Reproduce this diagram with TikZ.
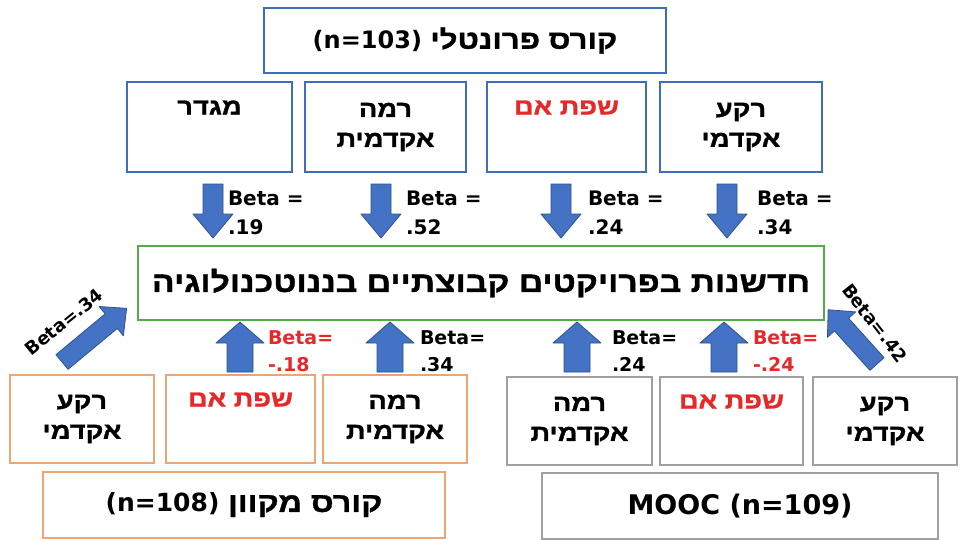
\documentclass[tikz,border=0pt]{standalone}
\usepackage{fontspec}
\setmainfont{DejaVu Sans}
\newfontfamily\heb[Script=Hebrew, Scale=1.1, FakeStretch=1.18, FakeBold=1.2]{Liberation Sans}
\TeXXeTstate=1

\definecolor{boxblue}{RGB}{62,108,190}
\definecolor{boxgreen}{RGB}{84,170,72}
\definecolor{boxorange}{RGB}{240,164,112}
\definecolor{boxgray}{RGB}{160,160,160}
\definecolor{arrowblue}{RGB}{68,114,196}
\definecolor{arrowedge}{RGB}{47,82,143}
\definecolor{textred}{RGB}{232,40,40}

% right-to-left Hebrew run
\newcommand\rtl[1]{{\heb\beginR #1\endR}}

% block arrow: tail point, direction angle, length, shaft width, head width, head length
\newcommand\fatarrow[6]{%
  \begin{scope}[shift={#1}, rotate=#2]
    \filldraw[fill=arrowblue, draw=arrowedge, line width=0.8pt, line join=round]
      (0,-#4/2) -- (#3-#6,-#4/2) -- (#3-#6,-#5/2) -- (#3,0) --
      (#3-#6,#5/2) -- (#3-#6,#4/2) -- (0,#4/2) -- cycle;
  \end{scope}}

\begin{document}
\begin{tikzpicture}[x=1pt, y=-1pt,
  every node/.style={inner sep=0pt, outer sep=0pt},
  varbox/.style={draw, line width=2.4pt, fill=white, align=center,
    font=\bfseries\fontsize{21}{30}\selectfont},
  titlebox/.style={draw, line width=2.4pt, fill=white,
    font=\bfseries\fontsize{24}{28}\selectfont},
  betalabel/.style={anchor=north west, align=left,
    font=\bfseries\fontsize{20}{29}\selectfont},
  betaup/.style={anchor=north west, align=left,
    font=\bfseries\fontsize{19}{27}\selectfont},
  betaside/.style={font=\bfseries\fontsize{18}{22}\selectfont}
]
\useasboundingbox (0,0) rectangle (960,539);
\fill[white] (0,0) rectangle (960,539);

% face-to-face course
\node[titlebox, draw=boxblue, minimum width=402pt, minimum height=65pt] (ftf) at (465,40.5)
  {(n=103) \rtl{קורס פרונטלי}};
\node[varbox, draw=boxblue, minimum width=165pt, minimum height=90pt] (fgender) at (209.5,127)
  {\rtl{מגדר}\\\strut};
\node[varbox, draw=boxblue, minimum width=161pt, minimum height=90pt] (flevel) at (385.5,127)
  {\rtl{רמה}\\\rtl{אקדמית}};
\node[varbox, draw=boxblue, minimum width=159pt, minimum height=90pt, text=textred] (flang) at (566.5,127)
  {\rtl{שפת אם}\\\strut};
\node[varbox, draw=boxblue, minimum width=162pt, minimum height=90pt] (fback) at (741,127)
  {\rtl{רקע}\\\rtl{אקדמי}};

% outcome
\node[draw=boxgreen, line width=2.4pt, fill=white, minimum width=686pt, minimum height=74pt,
  font=\bfseries\fontsize{26}{30}\selectfont] (innov) at (481,283)
  {\rtl{חדשנות בפרויקטים קבוצתיים בננוטכנולוגיה}};

% online course
\node[varbox, draw=boxorange, minimum width=144pt, minimum height=88pt] (oback) at (82,419)
  {\rtl{רקע}\\\rtl{אקדמי}};
\node[varbox, draw=boxorange, minimum width=149pt, minimum height=88pt, text=textred] (olang) at (240.5,419)
  {\rtl{שפת אם}\\\strut};
\node[varbox, draw=boxorange, minimum width=144pt, minimum height=88pt] (olevel) at (395,419)
  {\rtl{רמה}\\\rtl{אקדמית}};
\node[titlebox, draw=boxorange, minimum width=402pt, minimum height=66pt,
  font=\bfseries\fontsize{25}{28}\selectfont] (online) at (244,505)
  {(n=108) \rtl{קורס מקוון}};

% MOOC
\node[varbox, draw=boxgray, minimum width=145pt, minimum height=88pt] (mlevel) at (579.5,421)
  {\rtl{רמה}\\\rtl{אקדמית}};
\node[varbox, draw=boxgray, minimum width=143pt, minimum height=88pt, text=textred] (mlang) at (731.5,421)
  {\rtl{שפת אם}\\\strut};
\node[varbox, draw=boxgray, minimum width=144pt, minimum height=88pt] (mback) at (885,421)
  {\rtl{רקע}\\\rtl{אקדמי}};
\node[titlebox, draw=boxgray, minimum width=396pt, minimum height=66pt,
  font=\bfseries\fontsize{27}{30}\selectfont] (mooc) at (740,506)
  {MOOC (n=109)};

% paths from the face-to-face variables
\fatarrow{(213,184)}{-90}{54}{20}{40}{24}
\fatarrow{(381,184)}{-90}{54}{20}{40}{24}
\fatarrow{(561,184)}{-90}{54}{20}{40}{24}
\fatarrow{(727,184)}{-90}{54}{20}{40}{24}
\node[betalabel] (bf1) at (228,191) {Beta =\\.19};
\node[betalabel] (bf2) at (406,191) {Beta =\\.52};
\node[betalabel] (bf3) at (588,191) {Beta =\\.24};
\node[betalabel] (bf4) at (757,191) {Beta =\\.34};

% paths from the online course variables
\fatarrow{(240,372)}{90}{50}{26}{48}{21}
\fatarrow{(390,372)}{90}{50}{26}{48}{21}
\fatarrow{(62,362)}{39.7}{84}{19}{38}{20}
\node[betaup, text=textred] (bo1) at (268,331) {Beta=\\-.18};
\node[betaup] (bo2) at (420,331) {Beta=\\.34};
\node[betaside, rotate=39] (bo3) at (64,322) {Beta=.34};

% paths from the MOOC variables
\fatarrow{(577,372)}{90}{50}{26}{48}{21}
\fatarrow{(724,372)}{90}{50}{26}{48}{21}
\fatarrow{(877,364)}{132}{73}{19}{38}{20}
\node[betaup] (bm1) at (612,331) {Beta=\\.24};
\node[betaup, text=textred] (bm2) at (753,331) {Beta=\\-.24};
\node[betaside, rotate=-52] (bm3) at (875,323) {Beta=.42};
\end{tikzpicture}
\end{document}
